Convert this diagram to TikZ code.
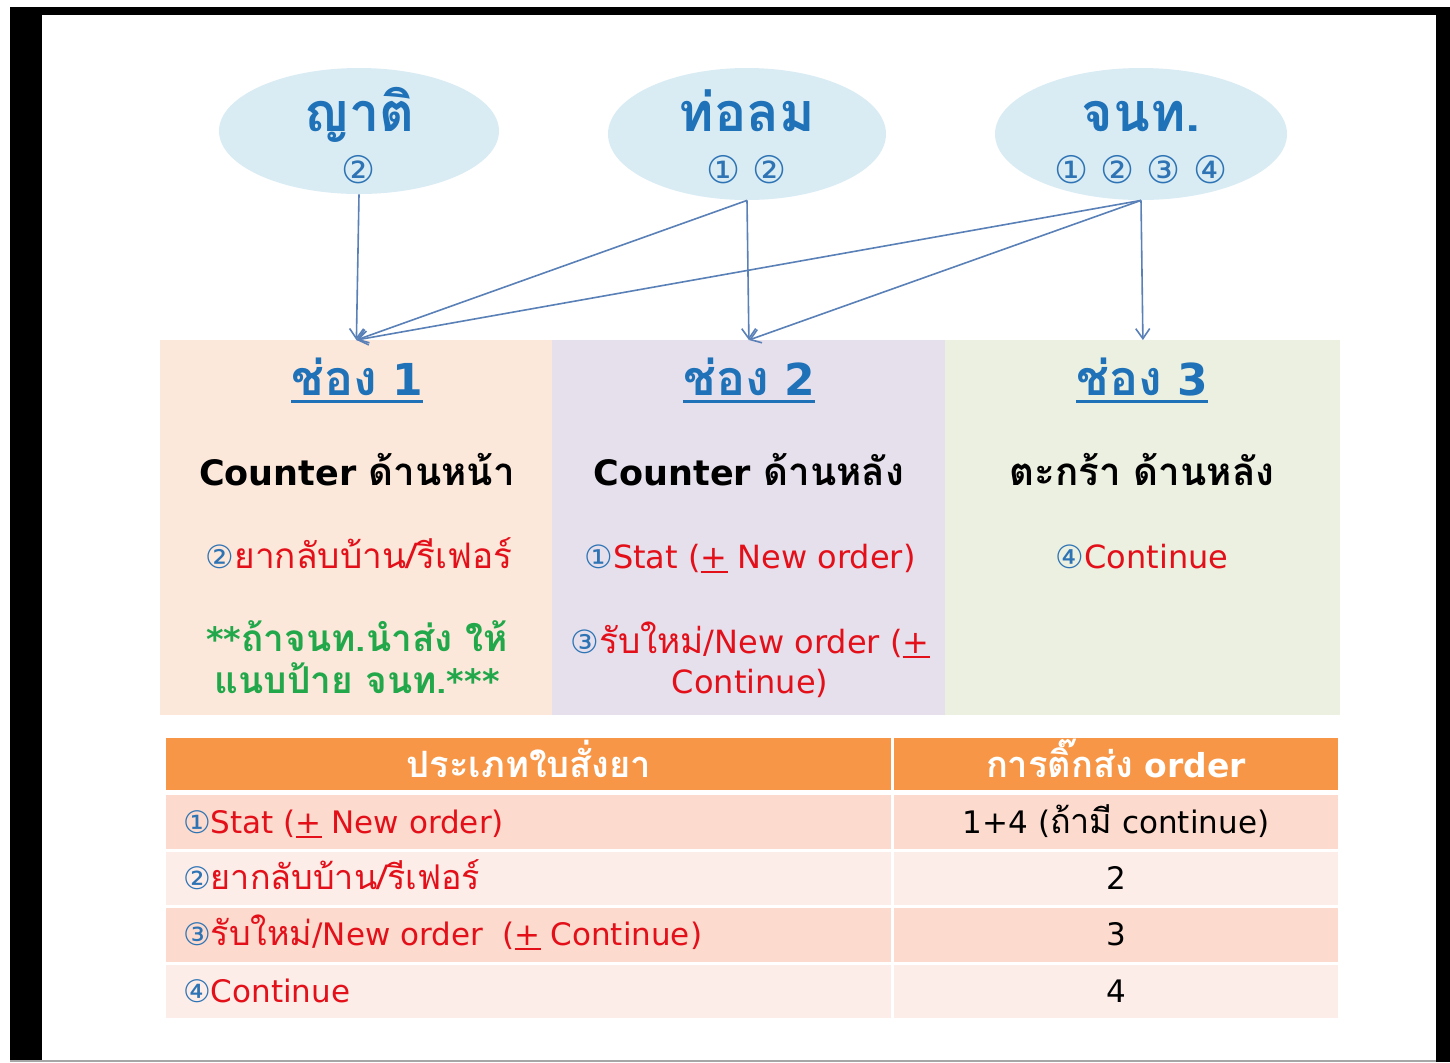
\documentclass[tikz,border=0pt]{standalone}
\usepackage{fontspec}
\setmainfont{DejaVu Sans}
\newfontfamily\thf[Script=Thai,Scale=1.1]{Loma}
\usetikzlibrary{arrows.meta,shapes.geometric}
\definecolor{ellfill}{HTML}{DAECF3}
\definecolor{tblue}{HTML}{1F71B8}
\definecolor{nblue}{HTML}{2E74B5}
\definecolor{tred}{HTML}{E3101A}
\definecolor{tgreen}{HTML}{22A84A}
\definecolor{arr}{HTML}{5A80B8}
\definecolor{pone}{HTML}{FCE8DA}
\definecolor{ptwo}{HTML}{E5E0EC}
\definecolor{pthree}{HTML}{EBF0E0}
\definecolor{horange}{HTML}{F79646}
\definecolor{rdark}{HTML}{FCDACD}
\definecolor{rlight}{HTML}{FCEDE9}
\newcommand\ulx[3]{\setbox0\hbox{#3}\rlap{\rule[#1]{\wd0}{#2}}\box0}
\newcommand\cnum[1]{{\color{nblue}#1}}
\newcommand\pmu{\ulx{-2.5pt}{0.8pt}{+}}
\begin{document}
\begin{tikzpicture}[x=0.5pt,y=-0.5pt,
  ell/.style={ellipse,fill=ellfill,inner sep=0pt},
  etitle/.style={anchor=base,text=tblue,font=\fontsize{24.5}{26}\selectfont\bfseries\thf},
  enums/.style={anchor=base,text=nblue,font=\fontsize{19}{21}\selectfont},
  panel/.style={anchor=north west,inner sep=0pt,minimum height=187.5pt},
  phead/.style={anchor=base,text=tblue,font=\fontsize{22}{24}\selectfont\bfseries},
  psub/.style={anchor=base,text=black,font=\fontsize{17.5}{20}\selectfont\bfseries},
  pitem/.style={anchor=base,text=tred,font=\fontsize{16}{18}\selectfont},
  pgreen/.style={anchor=base,text=tgreen,font=\fontsize{16.8}{19}\selectfont\bfseries},
  cell/.style={anchor=north west,inner sep=0pt},
  thead/.style={anchor=base,text=white,font=\fontsize{16.5}{18}\selectfont\bfseries},
  tleft/.style={anchor=base west,text=tred,font=\fontsize{15.5}{17}\selectfont},
  tright/.style={anchor=base,text=black,font=\fontsize{15.5}{17}\selectfont},
  conn/.style={draw=arr,line width=0.8pt,-{Straight Barb[length=5pt,width=7pt]}}]
\useasboundingbox (0,0) rectangle (1450,1062);
\fill[white] (0,0) rectangle (1450,1062);
\fill[black] (10,7) rectangle (1450,1062);
\fill[white] (42,15) rectangle (1436,1060);
\fill[gray!70] (10,1060) rectangle (1436,1062);
% ellipses
\node[ell,minimum width=140pt,minimum height=63pt] (e1) at (359,131) {};
\node[ell,minimum width=139pt,minimum height=66pt] (e2) at (747,134) {};
\node[ell,minimum width=146pt,minimum height=66pt] (e3) at (1141,134) {};
\node[etitle] (e1t) at (359,131) {ญาติ};
\node[enums] (e1n) at (359,183) {②};
\node[etitle] (e2t) at (747,131) {ท่อลม};
\node[enums] (e2n) at (747,183) {① ②};
\node[etitle] (e3t) at (1141,131) {จนท.};
\node[enums] (e3n) at (1141,183) {① ② ③ ④};
% panels
\node[panel,fill=pone,minimum width=196pt] (p1) at (160,340) {};
\node[panel,fill=ptwo,minimum width=196.5pt] (p2) at (552,340) {};
\node[panel,fill=pthree,minimum width=197.5pt] (p3) at (945,340) {};
% connectors
\draw[conn] (e1.south) -- (p1.north);
\draw[conn] (e2.south) -- (p1.north);
\draw[conn] (e2.south) -- (p2.north);
\draw[conn] (e3.south) -- (p1.north);
\draw[conn] (e3.south) -- (p2.north);
\draw[conn] (e3.south) -- (p3.north);
% panel 1
\node[phead] (h1) at (357,395) {\ulx{-4pt}{1.5pt}{{\thf ช่อง} 1}};
\node[psub] (s1) at (357,485) {Counter {\thf ด้านหน้า}};
\node[pitem] (i1) at (359,568) {\cnum{②}{\thf ยากลับบ้าน/รีเฟอร์}};
\node[pgreen] (g1) at (357,651) {**{\thf ถ้าจนท.นำส่ง ให้}};
\node[pgreen] (g2) at (357,693) {{\thf แนบป้าย จนท.}***};
% panel 2
\node[phead] (h2) at (749,395) {\ulx{-4pt}{1.5pt}{{\thf ช่อง} 2}};
\node[psub] (s2) at (749,485) {Counter {\thf ด้านหลัง}};
\node[pitem] (i2) at (750,568) {\cnum{①}Stat (\pmu{} New order)};
\node[pitem] (i3) at (750,653) {\cnum{③}{\thf รับใหม่}/New order (\pmu};
\node[pitem] (i4) at (750,693) {Continue)};
% panel 3
\node[phead] (h3) at (1142,395) {\ulx{-4pt}{1.5pt}{{\thf ช่อง} 3}};
\node[psub] (s3) at (1142,485) {{\thf ตะกร้า ด้านหลัง}};
\node[pitem] (i5) at (1142,568) {\cnum{④}Continue};
% table
\node[cell,fill=horange,minimum width=362.5pt,minimum height=26pt] (th1) at (166,738) {};
\node[cell,fill=horange,minimum width=222pt,minimum height=26pt] (th2) at (894,738) {};
\node[cell,fill=rdark,minimum width=362.5pt,minimum height=27pt] (a1) at (166,795) {};
\node[cell,fill=rdark,minimum width=222pt,minimum height=27pt] (b1) at (894,795) {};
\node[cell,fill=rlight,minimum width=362.5pt,minimum height=26.5pt] (a2) at (166,852) {};
\node[cell,fill=rlight,minimum width=222pt,minimum height=26.5pt] (b2) at (894,852) {};
\node[cell,fill=rdark,minimum width=362.5pt,minimum height=27pt] (a3) at (166,908) {};
\node[cell,fill=rdark,minimum width=222pt,minimum height=27pt] (b3) at (894,908) {};
\node[cell,fill=rlight,minimum width=362.5pt,minimum height=26.5pt] (a4) at (166,965) {};
\node[cell,fill=rlight,minimum width=222pt,minimum height=26.5pt] (b4) at (894,965) {};
\node[thead] (th1t) at (529,777) {{\thf ประเภทใบสั่งยา}};
\node[thead] (th2t) at (1116,777) {{\thf การติ๊กส่ง} order};
\node[tleft] (a1t) at (176,833) {\cnum{①}Stat (\pmu{} New order)};
\node[tleft] (a2t) at (176,889) {\cnum{②}{\thf ยากลับบ้าน/รีเฟอร์}};
\node[tleft] (a3t) at (176,945) {\cnum{③}{\thf รับใหม่}/New order\ \ (\pmu{} Continue)};
\node[tleft] (a4t) at (176,1002) {\cnum{④}Continue};
\node[tright] (b1t) at (1116,833) {1+4 ({\thf ถ้ามี} continue)};
\node[tright] (b2t) at (1116,889) {2};
\node[tright] (b3t) at (1116,945) {3};
\node[tright] (b4t) at (1116,1002) {4};
\end{tikzpicture}
\end{document}
